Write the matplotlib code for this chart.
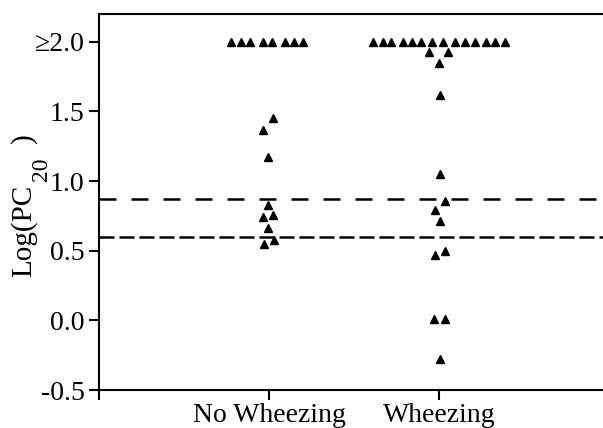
import matplotlib
matplotlib.use("Agg")
import matplotlib.pyplot as plt

plt.rcParams['font.family'] = ['Liberation Serif', 'DejaVu Serif']

# groups on the x axis
groups = ['No Wheezing', 'Wheezing']
group_pos = [1, 2]

# top row (values >= 2.0), horizontal offsets from the group tick
top_off_no = [-0.224, -0.165, -0.112, -0.035, 0.018, 0.094, 0.147, 0.200]
top_off_wh = [-0.388, -0.329, -0.282, -0.212, -0.159, -0.106, -0.041,
              0.024, 0.094, 0.153, 0.212, 0.276, 0.329, 0.388]

# remaining points: offset, log(PC20)
off_no = [0.024, -0.034, -0.006, -0.004, -0.034, 0.025, -0.006, -0.030, 0.028]
val_no = [1.45, 1.37, 1.17, 0.83, 0.74, 0.76, 0.665, 0.545, 0.576]

off_wh = [-0.061, 0.053, 0.0, 0.004, 0.004, 0.034, -0.024, 0.008, -0.024, 0.034, -0.028, 0.034, 0.004]
val_wh = [1.93, 1.93, 1.85, 1.62, 1.05, 0.86, 0.79, 0.71, 0.47, 0.50, 0.01, 0.01, -0.28]

# reference lines
upper_line = 0.87
lower_line = 0.60

yticks = [-0.5, 0.0, 0.5, 1.0, 1.5, 2.0]
ytick_labels = ['-0.5', '0.0', '0.5', '1.0', '1.5', '\u22652.0']

W, H = 603, 428
fig = plt.figure(figsize=(W/100, H/100), dpi=100)
ax = fig.add_axes([99/W, 38/H, 510/W, 376/H])

ms = 6.2
ax.plot([group_pos[0] + o for o in top_off_no], [2.0]*len(top_off_no), '^', color='black', ms=ms, clip_on=False)
ax.plot([group_pos[1] + o for o in top_off_wh], [2.0]*len(top_off_wh), '^', color='black', ms=ms, clip_on=False)
ax.plot([group_pos[0] + o for o in off_no], val_no, '^', color='black', ms=ms)
ax.plot([group_pos[1] + o for o in off_wh], val_wh, '^', color='black', ms=ms)

lw = 1.8
ax.axhline(upper_line, color='black', lw=lw, linestyle=(0, (6.8, 6.0)))
ax.axhline(lower_line, color='black', lw=lw, linestyle=(0, (6.0, 2.0)))

ax.set_xlim(0, 3)
ax.set_ylim(-0.5, 2.2)
ax.set_xticks([0] + group_pos)
ax.set_xticklabels([''] + groups)
ax.set_yticks(yticks)
ax.set_yticklabels(ytick_labels)

for s in ax.spines.values():
    s.set_linewidth(1.5)
ax.tick_params(direction='out', length=7.5, width=1.5, labelsize=20)
ax.tick_params(axis='x', pad=1.5)
ax.tick_params(axis='y', pad=3)

# y label built from pieces so the subscript can be large (pixel positions)
kw = dict(rotation=90, rotation_mode='anchor', ha='left', va='baseline')
fig.text(31/W, 1 - 277/H, 'Log(PC', fontsize=21, **kw)
fig.text(47/W, 1 - 181/H, '20', fontsize=17, **kw)
fig.text(31/W, 1 - 143/H, ')', fontsize=21, **kw)

fig.savefig('out.png', dpi=100)
